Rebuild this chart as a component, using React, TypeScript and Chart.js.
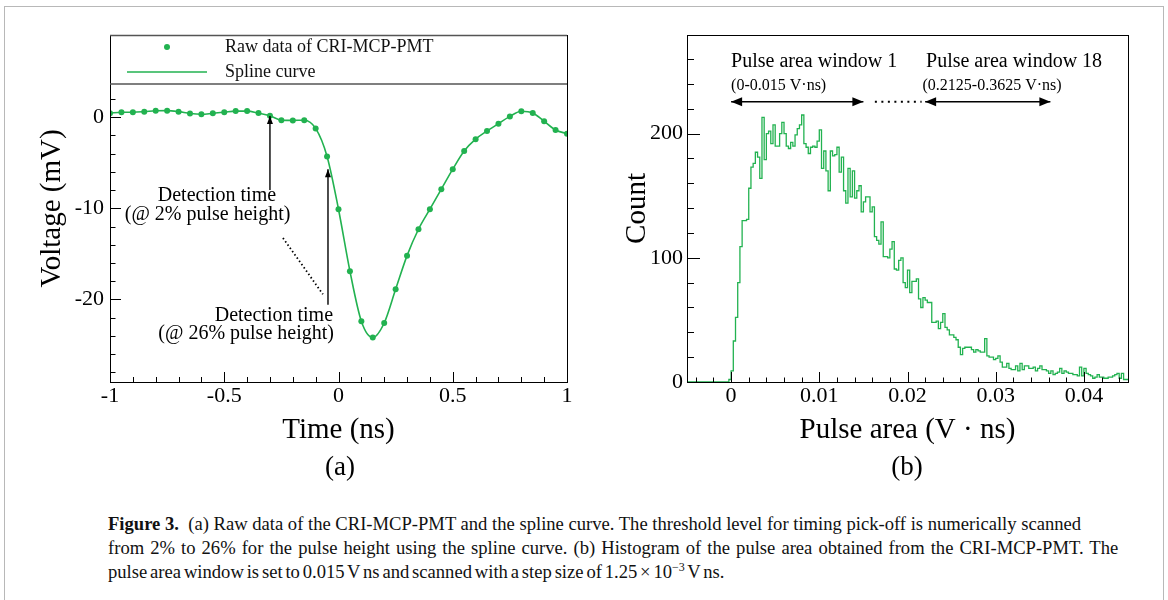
import React, { useEffect, useRef } from 'react';
import { Chart, registerables } from 'chart.js';

Chart.register(...registerables);

const GREEN = 'rgb(34,178,80)';
const SERIF = '"Liberation Serif", "Times New Roman", serif';

// ---------- Panel (a): raw pulse ----------
const timeNs = [-1, -0.95, -0.9, -0.85, -0.8, -0.75, -0.7, -0.65, -0.6, -0.55, -0.5, -0.45, -0.4, -0.35, -0.3, -0.25, -0.2, -0.15, -0.1, -0.05, 0, 0.05, 0.1, 0.15, 0.2, 0.25, 0.3, 0.35, 0.4, 0.45, 0.5, 0.55, 0.6, 0.65, 0.7, 0.75, 0.8, 0.85, 0.9, 0.95, 1];
const voltageMv = [0.45, 0.56, 0.56, 0.62, 0.72, 0.73, 0.62, 0.42, 0.33, 0.44, 0.56, 0.68, 0.68, 0.46, 0.17, -0.32, -0.34, -0.32, -1.22, -4.3, -10.1, -16.9, -22.4, -24.2, -22.6, -18.9, -15.2, -12.3, -10.1, -7.9, -5.7, -3.7, -2.4, -1.5, -0.7, 0.1, 0.66, 0.47, -0.44, -1.4, -1.8];
const timeTickValues = [-1, -0.5, 0, 0.5, 1];
const timeTickLabels = ['-1', '-0.5', '0', '0.5', '1'];
const voltageTickValues = [-20, -10, 0];
const voltageTickLabels = ['-20', '-10', '0'];

// ---------- Panel (b): pulse-area histogram ----------
const areaBinStart = -0.005;
const areaBinWidth = 0.00025;
const areaCounts = [
  0, 0, 0, 0, 0, 0, 0, 0, 0, 0, 0, 0, 0, 0, 0, 0, 0, 0, 0, 2,
  9, 33, 52, 80, 109, 130, 130, 131, 156, 173,
  176, 185, 181, 164, 213, 179, 200, 202, 192, 207,
  190, 190, 200, 209, 200, 190, 188, 193, 190, 199,
  204, 207, 215, 192, 189, 184, 189, 190, 189, 194,
  203, 172, 186, 170, 154, 186, 182, 183, 189, 169,
  181, 154, 144, 172, 149, 170, 148, 154, 158, 137,
  145, 149, 149, 137, 141, 117, 114, 111, 129, 101,
  101, 100, 107, 113, 91, 90, 98, 100, 80, 76,
  90, 72, 81, 81, 83, 67, 60, 68, 66, 64,
  64, 48, 48, 49, 43, 48, 55, 44, 42, 38,
  38, 36, 34, 28, 22, 27, 28, 28, 28, 26,
  24, 26, 25, 24, 24, 35, 21, 20, 20, 18,
  19, 21, 16, 12, 12, 15, 11, 10, 10, 13,
  9, 15, 10, 13, 13, 11, 11, 12, 9, 11,
  13, 10, 10, 9, 7, 9, 6, 7, 8, 11,
  7, 9, 8, 7, 7, 6, 6, 5, 12, 5,
  11, 7, 6, 5, 3, 4, 6, 4, 4, 3,
  3, 4, 4, 5, 6, 7, 3, 7, 2, 2,
];
const areaTickValues = [0, 0.01, 0.02, 0.03, 0.04];
const areaTickLabels = ['0', '0.01', '0.02', '0.03', '0.04'];
const countTickValues = [0, 100, 200];
const countTickLabels = ['0', '100', '200'];

const range = (a: number, b: number, step: number) => {
  const out: number[] = [];
  for (let i = 0; a + i * step <= b + 1e-9; i++) out.push(+(a + i * step).toFixed(6));
  return out;
};

type TickCfg = {
  xMajor: number[]; xMinor: number[]; yMajor: number[]; yMinor: number[];
  xMajorLen: number; xMinorLen: number; yMajorLen: number; yMinorLen: number;
};

function drawArrow(ctx: CanvasRenderingContext2D, x1: number, y1: number, x2: number, y2: number, len: number, half: number, start: boolean, end: boolean) {
  const ang = Math.atan2(y2 - y1, x2 - x1);
  ctx.beginPath();
  ctx.moveTo(x1, y1);
  ctx.lineTo(x2, y2);
  ctx.stroke();
  const head = (x: number, y: number, a: number) => {
    ctx.beginPath();
    ctx.moveTo(x, y);
    ctx.lineTo(x - len * Math.cos(a) + half * Math.sin(a), y - len * Math.sin(a) - half * Math.cos(a));
    ctx.lineTo(x - len * Math.cos(a) - half * Math.sin(a), y - len * Math.sin(a) + half * Math.cos(a));
    ctx.closePath();
    ctx.fill();
  };
  if (end) head(x2, y2, ang);
  if (start) head(x1, y1, ang + Math.PI);
}

function frameTicksPlugin(cfg: TickCfg) {
  return {
    id: 'frameTicks',
    afterDatasetsDraw(chart: any) {
      const { ctx, chartArea: a, scales } = chart;
      const x = scales.x, y = scales.y;
      ctx.save();
      ctx.strokeStyle = '#000';
      ctx.lineWidth = 1;
      ctx.beginPath();
      const xs = (vals: number[], len: number) => {
        for (const v of vals) {
          const px = Math.round(x.getPixelForValue(v)) + 0.5;
          if (px < a.left || px > a.right + 1) continue;
          ctx.moveTo(px, a.bottom);
          ctx.lineTo(px, a.bottom - len);
        }
      };
      const ys = (vals: number[], len: number) => {
        for (const v of vals) {
          const py = Math.round(y.getPixelForValue(v)) + 0.5;
          if (py < a.top || py > a.bottom + 1) continue;
          ctx.moveTo(a.left, py);
          ctx.lineTo(a.left + len, py);
        }
      };
      xs(cfg.xMajor, cfg.xMajorLen);
      xs(cfg.xMinor, cfg.xMinorLen);
      ys(cfg.yMajor, cfg.yMajorLen);
      ys(cfg.yMinor, cfg.yMinorLen);
      ctx.stroke();
      ctx.strokeRect(Math.round(a.left) + 0.5, Math.round(a.top) + 0.5, Math.round(a.right - a.left), Math.round(a.bottom - a.top));
      ctx.restore();
    },
  };
}

const leftAnnotations = {
  id: 'leftAnnotations',
  afterDraw(chart: any) {
    const { ctx, chartArea: a, scales } = chart;
    const x = scales.x, y = scales.y;
    ctx.save();
    // legend box
    const lb = a.top + 49;
    ctx.fillStyle = '#fff';
    ctx.fillRect(a.left + 1, a.top + 1, a.right - a.left - 2, lb - a.top - 1);
    ctx.strokeStyle = '#555';
    ctx.lineWidth = 1.5;
    ctx.beginPath();
    ctx.moveTo(a.left, lb);
    ctx.lineTo(a.right, lb);
    ctx.moveTo(a.left, a.top + 0.5);
    ctx.lineTo(a.right, a.top + 0.5);
    ctx.stroke();
    ctx.fillStyle = GREEN;
    ctx.beginPath();
    ctx.arc(a.left + 57, a.top + 12, 3, 0, Math.PI * 2);
    ctx.fill();
    ctx.strokeStyle = GREEN;
    ctx.lineWidth = 1.6;
    ctx.beginPath();
    ctx.moveTo(a.left + 17, a.top + 37);
    ctx.lineTo(a.left + 97, a.top + 37);
    ctx.stroke();
    ctx.fillStyle = '#111';
    ctx.font = `18px ${SERIF}`;
    ctx.textBaseline = 'middle';
    ctx.textAlign = 'left';
    ctx.fillText('Raw data of CRI-MCP-PMT', a.left + 115, a.top + 12);
    ctx.fillText('Spline curve', a.left + 115, a.top + 37);

    // arrows
    ctx.strokeStyle = '#000';
    ctx.fillStyle = '#000';
    ctx.lineWidth = 1.4;
    drawArrow(ctx, x.getPixelForValue(-0.3), y.getPixelForValue(-8.0), x.getPixelForValue(-0.3), y.getPixelForValue(0.15), 8, 3, false, true);
    drawArrow(ctx, x.getPixelForValue(-0.046), y.getPixelForValue(-20.6), x.getPixelForValue(-0.046), y.getPixelForValue(-5.71), 8, 3, false, true);
    // dotted connector
    ctx.setLineDash([1.5, 2.5]);
    ctx.lineWidth = 1.8;
    ctx.beginPath();
    ctx.moveTo(x.getPixelForValue(-0.243), y.getPixelForValue(-13.26));
    ctx.lineTo(x.getPixelForValue(-0.068), y.getPixelForValue(-19.45));
    ctx.stroke();
    ctx.setLineDash([]);
    // texts
    ctx.font = `20px ${SERIF}`;
    ctx.fillStyle = '#000';
    ctx.textBaseline = 'middle';
    ctx.textAlign = 'center';
    ctx.fillText('Detection time', x.getPixelForValue(-0.532), y.getPixelForValue(-8.65));
    ctx.fillText('(@ 2% pulse height)', x.getPixelForValue(-0.573), y.getPixelForValue(-10.74));
    ctx.textAlign = 'right';
    ctx.fillText('Detection time', x.getPixelForValue(-0.024), y.getPixelForValue(-21.8));
    ctx.fillText('(@ 26% pulse height)', x.getPixelForValue(-0.02), y.getPixelForValue(-23.8));
    ctx.restore();
  },
};

const rightAnnotations = {
  id: 'rightAnnotations',
  afterDraw(chart: any) {
    const { ctx, scales } = chart;
    const x = scales.x, y = scales.y;
    ctx.save();
    ctx.fillStyle = '#000';
    ctx.strokeStyle = '#000';
    ctx.textAlign = 'left';
    ctx.textBaseline = 'alphabetic';
    ctx.font = `20px ${SERIF}`;
    ctx.fillText('Pulse area window 1', x.getPixelForValue(0), y.getPixelForValue(253.4));
    ctx.fillText('Pulse area window 18', x.getPixelForValue(0.0221), y.getPixelForValue(253.4));
    ctx.font = `16px ${SERIF}`;
    ctx.fillText('(0-0.015 V\u00b7ns)', x.getPixelForValue(0), y.getPixelForValue(235));
    ctx.fillText('(0.2125-0.3625 V\u00b7ns)', x.getPixelForValue(0.0217), y.getPixelForValue(235));
    const ay = y.getPixelForValue(225.7);
    ctx.lineWidth = 1.6;
    drawArrow(ctx, x.getPixelForValue(0), ay, x.getPixelForValue(0.015), ay, 11, 4.5, true, true);
    drawArrow(ctx, x.getPixelForValue(0.022), ay, x.getPixelForValue(0.0362), ay, 11, 4.5, true, true);
    ctx.setLineDash([2, 4.5]);
    ctx.lineWidth = 2;
    ctx.beginPath();
    ctx.moveTo(x.getPixelForValue(0.0163), ay);
    ctx.lineTo(x.getPixelForValue(0.0216), ay);
    ctx.stroke();
    ctx.restore();
  },
};

const tickFont = { family: SERIF, size: 22 };
const titleFont = { family: SERIF, size: 29 };

export default function App() {
  const leftRef = useRef<HTMLCanvasElement>(null);
  const rightRef = useRef<HTMLCanvasElement>(null);

  useEffect(() => {
    const pulsePoints = timeNs.map((t, i) => ({ x: t, y: voltageMv[i] }));
    const left = new Chart(leftRef.current as HTMLCanvasElement, {
      type: 'scatter',
      data: {
        datasets: [
          {
            label: 'Raw data of CRI-MCP-PMT',
            data: pulsePoints,
            showLine: false,
            pointRadius: 3,
            pointBackgroundColor: GREEN,
            pointBorderWidth: 0,
          },
          {
            label: 'Spline curve',
            data: pulsePoints,
            showLine: true,
            borderColor: GREEN,
            borderWidth: 1.6,
            pointRadius: 0,
            cubicInterpolationMode: 'monotone',
          },
        ],
      },
      options: {
        responsive: false,
        animation: false,
        events: [],
        layout: { padding: { top: 35, right: 43, left: 0, bottom: 0 } },
        plugins: { legend: { display: false }, tooltip: { enabled: false } },
        scales: {
          x: {
            type: 'linear', min: -1, max: 1,
            afterFit: (s: any) => { s.height = 98; },
            afterBuildTicks: (s: any) => { s.ticks = timeTickValues.map((v) => ({ value: v })); },
            grid: { display: false, drawTicks: false },
            border: { display: false },
            ticks: {
              autoSkip: false, maxRotation: 0, padding: 1, color: '#000', font: tickFont,
              callback: (v: any) => timeTickLabels[timeTickValues.indexOf(Number(v))] ?? '',
            },
            title: { display: true, text: 'Time (ns)', color: '#000', font: titleFont, padding: { top: 0, bottom: 32 } },
          },
          y: {
            type: 'linear', min: -29.08, max: 9.04,
            afterFit: (s: any) => { s.width = 110; },
            afterBuildTicks: (s: any) => { s.ticks = voltageTickValues.map((v) => ({ value: v })); },
            grid: { display: false, drawTicks: false },
            border: { display: false },
            ticks: {
              autoSkip: false, padding: 6, color: '#000', font: tickFont,
              callback: (v: any) => voltageTickLabels[voltageTickValues.indexOf(Number(v))] ?? '',
            },
            title: { display: true, text: 'Voltage (mV)', color: '#000', font: titleFont, padding: { top: 35, bottom: 0 } },
          },
        },
      },
      plugins: [
        frameTicksPlugin({
          xMajor: timeTickValues, xMinor: range(-1, 1, 0.1),
          yMajor: voltageTickValues, yMinor: range(-28, 8, 2),
          xMajorLen: 10, xMinorLen: 5, yMajorLen: 11, yMinorLen: 5.5,
        }),
        leftAnnotations,
      ],
    } as any);

    const histPoints = areaCounts.map((c, i) => ({ x: areaBinStart + i * areaBinWidth, y: c }));
    histPoints.push({ x: areaBinStart + areaCounts.length * areaBinWidth, y: areaCounts[areaCounts.length - 1] });
    const right = new Chart(rightRef.current as HTMLCanvasElement, {
      type: 'scatter',
      data: {
        datasets: [
          {
            label: 'Pulse area',
            data: histPoints,
            showLine: true,
            stepped: true,
            borderColor: GREEN,
            borderWidth: 1.3,
            pointRadius: 0,
          },
        ],
      },
      options: {
        responsive: false,
        animation: false,
        events: [],
        layout: { padding: { top: 35, right: 40, left: 0, bottom: 0 } },
        plugins: { legend: { display: false }, tooltip: { enabled: false } },
        scales: {
          x: {
            type: 'linear', min: -0.005, max: 0.045,
            afterFit: (s: any) => { s.height = 98; },
            afterBuildTicks: (s: any) => { s.ticks = areaTickValues.map((v) => ({ value: v })); },
            grid: { display: false, drawTicks: false },
            border: { display: false },
            ticks: {
              autoSkip: false, maxRotation: 0, padding: 1, color: '#000', font: tickFont,
              callback: (v: any) => areaTickLabels[areaTickValues.indexOf(Number(v))] ?? '',
            },
            title: { display: true, text: 'Pulse area (V \u00b7 ns)', color: '#000', font: titleFont, padding: { top: 0, bottom: 32 } },
          },
          y: {
            type: 'linear', min: 0, max: 279.4,
            afterFit: (s: any) => { s.width = 77; },
            afterBuildTicks: (s: any) => { s.ticks = countTickValues.map((v) => ({ value: v })); },
            grid: { display: false, drawTicks: false },
            border: { display: false },
            ticks: {
              autoSkip: false, padding: 4, color: '#000', font: tickFont,
              callback: (v: any) => countTickLabels[countTickValues.indexOf(Number(v))] ?? '',
            },
            title: { display: true, text: 'Count', color: '#000', font: titleFont, padding: { top: 10, bottom: 0 } },
          },
        },
      },
      plugins: [
        frameTicksPlugin({
          xMajor: areaTickValues, xMinor: range(-0.004, 0.044, 0.002),
          yMajor: countTickValues, yMinor: range(20, 260, 20),
          xMajorLen: 10, xMinorLen: 4.5, yMajorLen: 13, yMinorLen: 7,
        }),
        rightAnnotations,
      ],
    } as any);

    return () => { left.destroy(); right.destroy(); };
  }, []);

  const captionLine: React.CSSProperties = {
    position: 'absolute', left: 108, whiteSpace: 'nowrap', fontSize: 18.6, lineHeight: '24px', color: '#111',
  };

  return (
    <div style={{ position: 'fixed', left: 0, top: 0, width: 1168, height: 600, background: '#fff', overflow: 'hidden', fontFamily: SERIF }}>
      <div style={{ position: 'absolute', left: 4, top: 6, width: 1160, height: 640, border: '1.5px solid #b8b8b8', boxSizing: 'border-box' }} />
      <canvas ref={leftRef} width={610} height={480} style={{ position: 'absolute', left: 0, top: 0, width: 610, height: 480 }} />
      <canvas ref={rightRef} width={558} height={480} style={{ position: 'absolute', left: 610, top: 0, width: 558, height: 480 }} />
      <div style={{ position: 'absolute', left: 240, width: 200, top: 450, textAlign: 'center', fontSize: 27, lineHeight: '32px' }}>(a)</div>
      <div style={{ position: 'absolute', left: 807, width: 200, top: 450, textAlign: 'center', fontSize: 27, lineHeight: '32px' }}>(b)</div>
      <div style={{ ...captionLine, top: 512 }}>
        <b>Figure 3.</b>&nbsp;&nbsp;(a) Raw data of the CRI-MCP-PMT and the spline curve. The threshold level for timing pick-off is numerically scanned
      </div>
      <div style={{ ...captionLine, top: 536, wordSpacing: 1.4 }}>
        from 2% to 26% for the pulse height using the spline curve. (b) Histogram of the pulse area obtained from the CRI-MCP-PMT. The
      </div>
      <div style={{ ...captionLine, top: 560, wordSpacing: -1.8 }}>
        pulse area window is set to 0.015 V ns and scanned with a step size of 1.25 &times; 10<sup style={{ fontSize: 12, lineHeight: 0 }}>&minus;3</sup> V ns.
      </div>
    </div>
  );
}
